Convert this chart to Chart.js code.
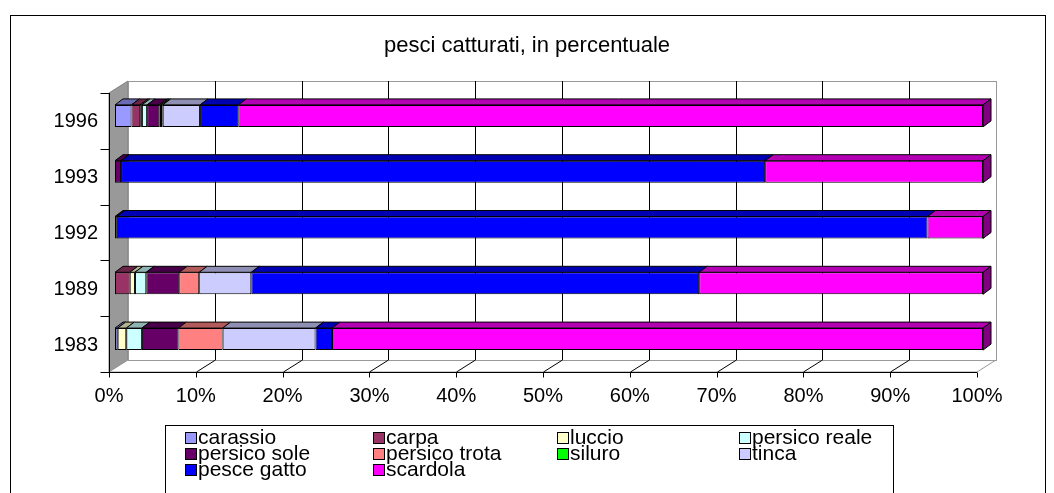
<!DOCTYPE html>
<html>
<head>
<meta charset="utf-8">
<script src="https://cdn.jsdelivr.net/npm/chart.js@4"></script>
<style>
  html, body { margin: 0; padding: 0; background: #fff; }
</style>
</head>
<body>
<canvas id="fishChart" width="1054" height="493"></canvas>
<script>
// ========= Data =========
const years = ["1983", "1989", "1992", "1993", "1996"];
const xTicks = [0, 10, 20, 30, 40, 50, 60, 70, 80, 90, 100];

const carassio      = [0.3, 0.0, 0.0, 0.0, 1.9];
const carpa         = [0.0, 1.7, 0.0, 0.0, 1.0];
const luccio        = [1.0, 0.6, 0.0, 0.0, 0.2];
const persicoReale  = [1.8, 1.3, 0.0, 0.0, 0.6];
const persicoSole   = [4.2, 3.8, 0.2, 0.7, 1.4];
const persicoTrota  = [5.1, 2.3, 0.0, 0.0, 0.2];
const siluro        = [0.0, 0.0, 0.0, 0.0, 0.2];
const tinca         = [10.7, 6.0, 0.0, 0.0, 4.3];
const pesceGatto    = [1.9, 51.6, 93.4, 74.2, 4.4];
const scardola      = [75.0, 32.7, 6.4, 25.1, 85.8];

const series = [
  { label: "carassio",      data: carassio,     color: "#9999FF" },
  { label: "carpa",         data: carpa,        color: "#993366" },
  { label: "luccio",        data: luccio,       color: "#FFFFCC" },
  { label: "persico reale", data: persicoReale, color: "#CCFFFF" },
  { label: "persico sole",  data: persicoSole,  color: "#660066" },
  { label: "persico trota", data: persicoTrota, color: "#FF8080" },
  { label: "siluro",        data: siluro,       color: "#00FF00" },
  { label: "tinca",         data: tinca,        color: "#CCCCFF" },
  { label: "pesce gatto",   data: pesceGatto,   color: "#0000FF" },
  { label: "scardola",      data: scardola,     color: "#FF00FF" }
];

const TITLE = "pesci catturati, in percentuale";
const FONT = "'Liberation Sans', Arial, sans-serif";

/* ========= Utilities ========= */
function shade(hex, f) {
  const n = parseInt(hex.slice(1), 16);
  const r = Math.round(((n >> 16) & 255) * f);
  const g = Math.round(((n >> 8) & 255) * f);
  const b = Math.round((n & 255) * f);
  return `rgb(${r},${g},${b})`;
}

// 3D offsets (front axis plane, back wall plane, bar depth) relative to the bar plane
const D = { fx: -6, fy: 5, bx: 13, by: -7, dx: 8, dy: -6 };

/* ========= 3D walls, bar faces, title, legend ========= */
const excel3d = {
  id: "excel3d",
  beforeDraw(chart) {
    const { ctx, chartArea: a, scales: { x } } = chart;
    ctx.save();
    ctx.lineWidth = 1;

    // outer frame
    ctx.strokeStyle = "#000";
    ctx.strokeRect(10.5, 15.5, 1035, 500);

    // title, centred on the whole frame
    ctx.fillStyle = "#000";
    ctx.font = `22px ${FONT}`;
    ctx.textAlign = "center";
    ctx.textBaseline = "middle";
    ctx.fillText(TITLE, 527, 46);

    const L = a.left, R = a.right, T = a.top, B = a.bottom;

    // left wall
    ctx.beginPath();
    ctx.moveTo(L + D.fx, T + D.fy);
    ctx.lineTo(L + D.bx, T + D.by);
    ctx.lineTo(L + D.bx, B + D.by);
    ctx.lineTo(L + D.fx, B + D.fy);
    ctx.closePath();
    ctx.fillStyle = "#999999";
    ctx.fill();
    ctx.strokeStyle = "#808080";
    ctx.stroke();

    // floor
    ctx.beginPath();
    ctx.moveTo(L + D.fx, B + D.fy);
    ctx.lineTo(L + D.bx, B + D.by);
    ctx.lineTo(R + D.bx, B + D.by);
    ctx.lineTo(R + D.fx, B + D.fy);
    ctx.closePath();
    ctx.fillStyle = "#fff";
    ctx.fill();
    ctx.strokeStyle = "#999999";
    ctx.stroke();

    // back wall
    ctx.fillStyle = "#fff";
    ctx.fillRect(L + D.bx, T + D.by, R - L, B - T);
    ctx.strokeStyle = "#999999";
    ctx.strokeRect(Math.round(L + D.bx) + 0.5, Math.round(T + D.by) + 0.5, Math.round(R - L), Math.round(B - T));

    // gridlines on back wall and floor
    ctx.strokeStyle = "#000";
    xTicks.slice(1, -1).forEach(v => {
      const px = Math.round(x.getPixelForValue(v)) + 0.5;
      ctx.beginPath();
      ctx.moveTo(px + D.bx, T + D.by);
      ctx.lineTo(px + D.bx, B + D.by);
      ctx.lineTo(px + D.fx, B + D.fy);
      ctx.stroke();
    });

    // front category axis
    const yl = Math.round(L + D.fx) + 0.5;
    ctx.beginPath();
    ctx.moveTo(yl, T + D.fy);
    ctx.lineTo(yl, B + D.fy);
    const band = (B - T) / years.length;
    for (let k = 0; k <= years.length; k++) {
      const ty = Math.round(T + D.fy + k * band) + 0.5;
      ctx.moveTo(yl - 9, ty);
      ctx.lineTo(yl, ty);
    }
    // front value axis
    const xb = Math.round(B + D.fy) + 0.5;
    ctx.moveTo(L + D.fx, xb);
    ctx.lineTo(R + D.fx, xb);
    xTicks.forEach(v => {
      const px = Math.round(x.getPixelForValue(v) + D.fx) + 0.5;
      ctx.moveTo(px, xb);
      ctx.lineTo(px, xb + 5);
    });
    ctx.stroke();
    ctx.restore();
  },

  afterDatasetsDraw(chart) {
    const { ctx } = chart;
    ctx.save();
    ctx.lineWidth = 1;
    ctx.strokeStyle = "#000";
    years.forEach((yr, j) => {
      let last = null;
      series.forEach((s, i) => {
        const bar = chart.getDatasetMeta(i).data[j];
        if (!s.data[j]) return;
        const top = bar.y - bar.height / 2;
        ctx.beginPath();
        ctx.moveTo(bar.base, top);
        ctx.lineTo(bar.base + D.dx, top + D.dy);
        ctx.lineTo(bar.x + D.dx, top + D.dy);
        ctx.lineTo(bar.x, top);
        ctx.closePath();
        ctx.fillStyle = shade(s.color, 0.7);
        ctx.fill();
        ctx.stroke();
        last = { bar, s };
      });
      if (last) {
        const { bar, s } = last;
        const top = bar.y - bar.height / 2, bot = bar.y + bar.height / 2;
        ctx.beginPath();
        ctx.moveTo(bar.x, top);
        ctx.lineTo(bar.x + D.dx, top + D.dy);
        ctx.lineTo(bar.x + D.dx, bot + D.dy);
        ctx.lineTo(bar.x, bot);
        ctx.closePath();
        ctx.fillStyle = shade(s.color, 0.5);
        ctx.fill();
        ctx.stroke();
      }
    });
    ctx.restore();
  },

  afterDraw(chart) {
    const { ctx } = chart;
    ctx.save();
    ctx.lineWidth = 1;
    ctx.strokeStyle = "#000";
    ctx.strokeRect(165.5, 425.5, 728, 80);
    const cols = [185, 373, 557, 739];
    const rows = [437, 453, 469];
    ctx.font = `21px ${FONT}`;
    ctx.textBaseline = "middle";
    series.forEach((s, i) => {
      const cx = cols[i % 4], cy = rows[Math.floor(i / 4)];
      ctx.fillStyle = s.color;
      ctx.fillRect(cx, cy - 5, 11, 11);
      ctx.strokeRect(cx + 0.5, cy - 5 + 0.5, 11, 11);
      ctx.fillStyle = "#000";
      ctx.fillText(s.label, cx + 13, cy + 1);
    });
    ctx.restore();
  }
};

/* ========= Chart ========= */
const ctx = document.getElementById("fishChart").getContext("2d");

new Chart(ctx, {
  type: "bar",
  data: {
    labels: years,
    datasets: series.map(s => ({
      label: s.label,
      data: s.data,
      backgroundColor: s.color,
      borderColor: "#000",
      borderWidth: 1,
      borderSkipped: false,
      barPercentage: 0.394,
      categoryPercentage: 1
    }))
  },
  options: {
    indexAxis: "y",
    responsive: false,
    animation: false,
    devicePixelRatio: 1,
    layout: { padding: { top: 88, right: 71, bottom: 0, left: 0 } },
    plugins: {
      legend: { display: false },
      tooltip: { enabled: false },
      title: { display: false }
    },
    scales: {
      x: {
        stacked: true,
        min: 0,
        max: 100,
        afterFit: (s) => { s.height = 126; },
        grid: { display: false, drawTicks: false },
        border: { display: false },
        ticks: {
          stepSize: 10,
          autoSkip: false,
          maxRotation: 0,
          labelOffset: D.fx,
          padding: 17,
          color: "#000",
          font: { family: FONT, size: 20 },
          callback: (v) => v + "%"
        }
      },
      y: {
        stacked: true,
        reverse: true,
        afterFit: (s) => { s.width = 115; },
        grid: { display: false, drawTicks: false },
        border: { display: false },
        ticks: {
          padding: 17,
          labelOffset: 6,
          color: "#000",
          font: { family: FONT, size: 20 }
        }
      }
    }
  },
  plugins: [excel3d]
});
</script>
</body>
</html>
